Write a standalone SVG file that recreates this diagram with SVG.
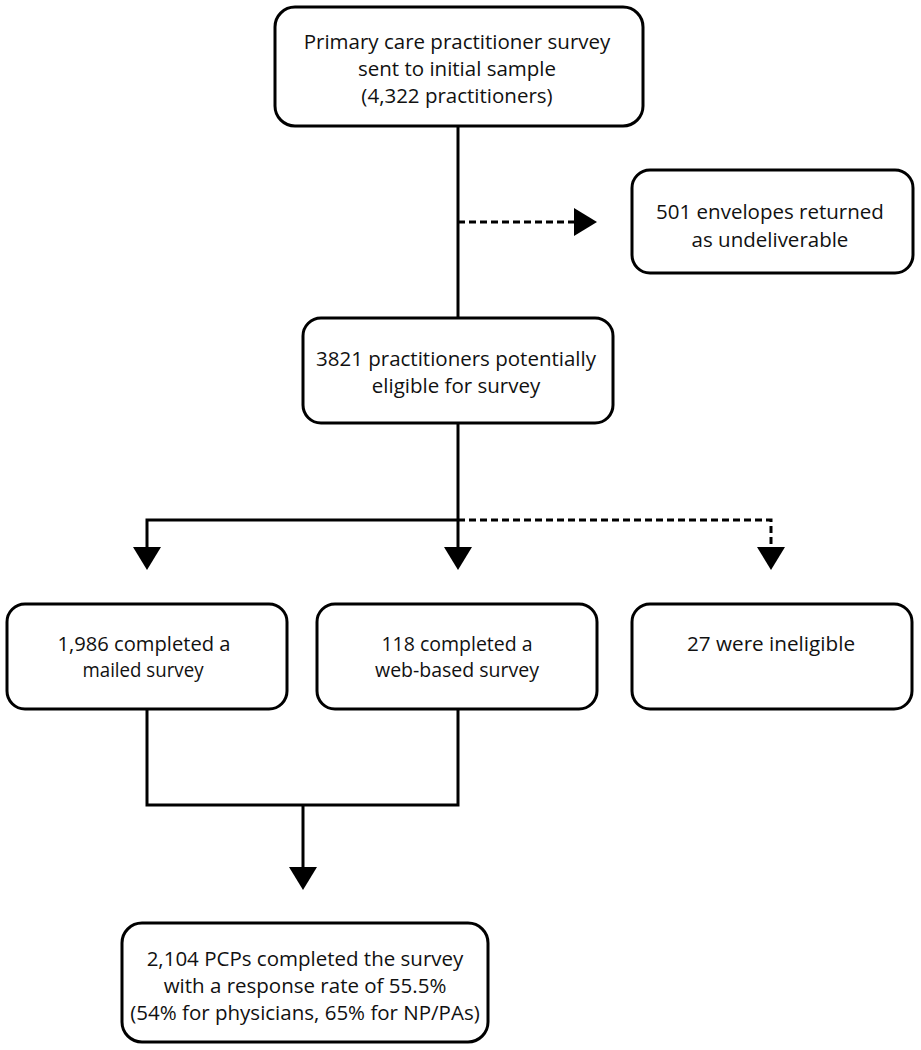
<svg xmlns="http://www.w3.org/2000/svg" width="921" height="1050" viewBox="0 0 921 1050">
<style>
.box{fill:#fff;stroke:#000;stroke-width:3}
.t{font-family:"Open Sans","Noto Sans",sans-serif;font-size:20.5px;fill:#111;text-anchor:middle}
.n{font-family:"Open Sans","Noto Sans",sans-serif;font-size:19.5px;fill:#111;text-anchor:middle}
.ln{fill:none;stroke:#000;stroke-width:3}
.dash{fill:none;stroke:#000;stroke-width:3;stroke-dasharray:7 4}
.ah{fill:#000}
</style>
<rect width="921" height="1050" fill="#fff"/>
<g id="connectors">
  <path class="ln" d="M458 126 V318"/>
  <path class="dash" d="M458 222 H576"/>
  <polygon class="ah" points="574,208 597,222 574,236"/>
  <path class="ln" d="M458 423 V548"/>
  <path class="ln" d="M147 548 V520 H458"/>
  <path class="dash" d="M458 520 H771 V548"/>
  <polygon class="ah" points="133,547 161,547 147,570"/>
  <polygon class="ah" points="444,547 472,547 458,570"/>
  <polygon class="ah" points="757,547 785,547 771,570"/>
  <path class="ln" d="M147 709 V805 H458 V709"/>
  <path class="ln" d="M303 805 V868"/>
  <polygon class="ah" points="289,867 317,867 303,890"/>
</g>
<g id="n1">
  <rect class="box" x="275" y="7" width="368" height="119" rx="20"/>
  <text class="t" x="457" y="49">Primary care practitioner survey</text>
  <text class="t" x="457" y="76">sent to initial sample</text>
  <text class="t" x="457" y="103">(4,322 practitioners)</text>
</g>
<g id="n2">
  <rect class="box" x="632" y="170" width="281" height="103" rx="18"/>
  <text class="t" x="770" y="219">501 envelopes returned</text>
  <text class="t" x="770" y="247">as undeliverable</text>
</g>
<g id="n3">
  <rect class="box" x="303" y="318" width="310" height="105" rx="18"/>
  <text class="t" x="456" y="366">3821 practitioners potentially</text>
  <text class="t" x="456" y="393">eligible for survey</text>
</g>
<g id="n4">
  <rect class="box" x="7" y="604" width="280" height="105" rx="18"/>
  <text class="n" x="144" y="651" textLength="173" lengthAdjust="spacingAndGlyphs">1,986 completed a</text>
  <text class="n" x="143" y="677" textLength="121" lengthAdjust="spacingAndGlyphs">mailed survey</text>
</g>
<g id="n5">
  <rect class="box" x="317" y="604" width="280" height="105" rx="18"/>
  <text class="n" x="457" y="651">118 completed a</text>
  <text class="n" x="457" y="677">web-based survey</text>
</g>
<g id="n6">
  <rect class="box" x="632" y="604" width="280" height="105" rx="18"/>
  <text class="n" x="771" y="651" textLength="168" lengthAdjust="spacingAndGlyphs">27 were ineligible</text>
</g>
<g id="n7">
  <rect class="box" x="122" y="923" width="366" height="119" rx="20"/>
  <text class="t" x="305" y="966">2,104 PCPs completed the survey</text>
  <text class="t" x="305" y="993">with a response rate of 55.5%</text>
  <text class="t" x="305" y="1020">(54% for physicians, 65% for NP/PAs)</text>
</g>
</svg>
